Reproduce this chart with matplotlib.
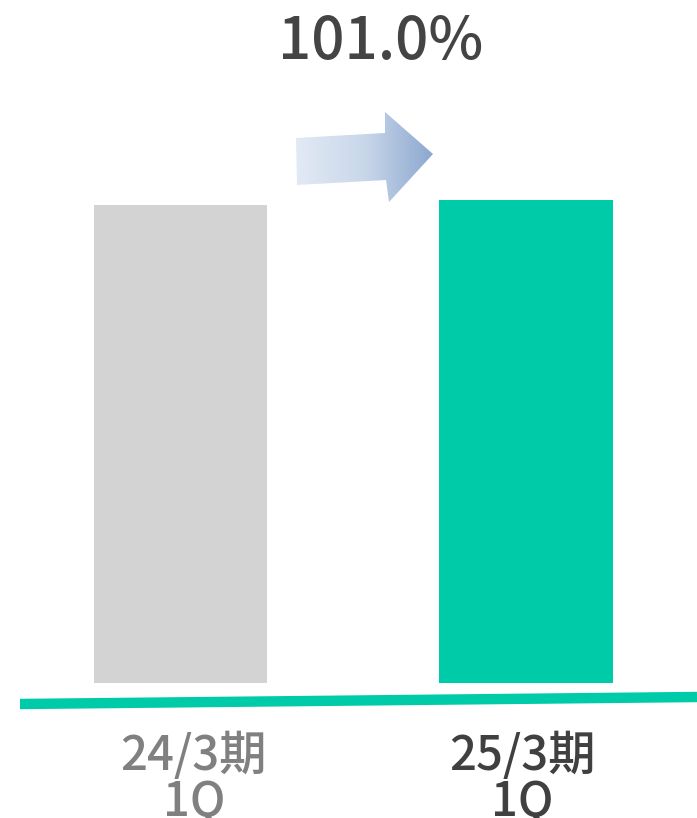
import matplotlib.pyplot as plt
import numpy as np
from matplotlib.patches import Polygon
from matplotlib.colors import LinearSegmentedColormap
from matplotlib.transforms import blended_transform_factory

plt.rcParams['font.family'] = ['Noto Sans CJK JP', 'DejaVu Sans']

categories = ["24/3期\n1Q", "25/3期\n1Q"]
values = [100, 101.0]
ratio_label = "101.0%"
bar_colors = ["#d3d3d3", "#00cba8"]
label_colors = ["#808080", "#404040"]

W, H = 697, 818
fig = plt.figure(figsize=(W / 100, H / 100), dpi=100)

# bar axes: bottom of bars at y=683px, value 100 reaches y=205px
ax = fig.add_axes([0, (H - 683) / H, 1, 683 / H])
x = np.arange(len(values))
ax.bar(x, values, width=0.502, color=bar_colors)
ax.set_xlim(-0.522, 1.495)
ax.set_ylim(0, 100 * 683 / 478)
ax.set_xticks([])
ax.set_yticks([])
for s in ax.spines.values():
    s.set_visible(False)
ax.patch.set_alpha(0)

# category labels under the baseline
trans = blended_transform_factory(ax.transData, ax.transAxes)
shifts = [0.039, -0.010]
for xi, lab, c, dx in zip(x, categories, label_colors, shifts):
    ax.text(xi + dx, -0.072, lab, transform=trans, ha='center', va='top',
            fontsize=34, color=c, fontweight='medium', linespacing=0.92,
            clip_on=False)

# overlay in pixel coords for decorations
ov = fig.add_axes([0, 0, 1, 1], zorder=3)
ov.axis('off')
ov.patch.set_alpha(0)

# baseline
ov.plot([20, 697], [704, 697], color="#00cba8", lw=7.5, solid_capstyle='butt')

# gradient arrow
verts = [(296, 138), (385, 133), (385, 112), (433, 154), (389, 202),
         (386, 180), (297, 185)]
poly = Polygon(verts, closed=True, facecolor='none', edgecolor='none')
ov.add_patch(poly)
cmap = LinearSegmentedColormap.from_list("arr", ["#e2eaf4", "#c9d7ea", "#8ca8cf"])
grad = np.linspace(0, 1, 256).reshape(1, -1)
im = ov.imshow(grad, cmap=cmap, extent=(296, 433, 202, 112), aspect='auto')
im.set_clip_path(poly)
ov.set_xlim(0, W)
ov.set_ylim(H, 0)

ov.text(381, 42, ratio_label, fontsize=42, color="#444444",
        ha='center', va='center', fontweight='medium')

fig.savefig("out.png", dpi=100)
